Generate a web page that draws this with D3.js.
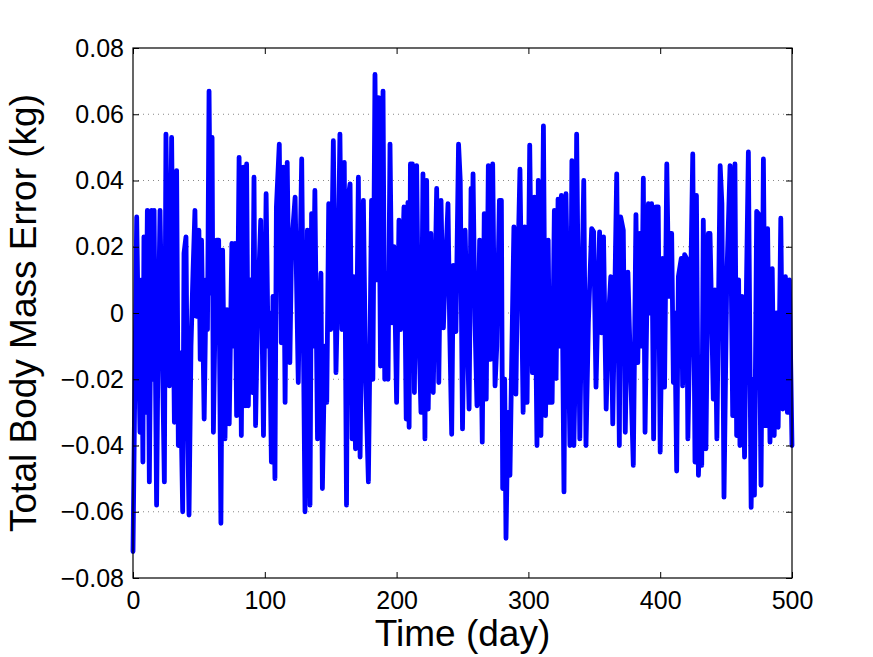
<!DOCTYPE html>
<html><head><meta charset="utf-8">
<script src="https://cdn.jsdelivr.net/npm/d3@7"></script>
<style>body{margin:0;background:#fff}svg{display:block}text{font-family:"Liberation Sans",Arial,sans-serif;fill:#000}</style>
</head><body>
<svg id="c" width="873" height="657"></svg>
<script>
const days = [0,2.8,4,5.3,6.6,7.5,8.3,9.5,10.9,12.4,14.2,15,16,17.9,19,20.5,22,23.8,25,27.6,29.3,31.4,33.1,34.4,35.7,37.7,38.7,40.2,
41.3,42.5,44,45.5,47,48,50,51,52,54,55.5,56.5,57.7,59,60,61,62.5,63.5,65,66.7,68,69.8,71.3,73,75,76,77.4,78.6,80.5,82.2,83.8,
85,86.2,87.5,89,90.5,91.8,93,94.5,96.9,99,101,102.5,103.5,105,106.2,107.7,108.8,111,112.5,114,115.4,117,119,120.3,123,
125.4,126.5,128,130.5,132.3,134.3,135.5,136.5,138,140,141.5,142.6,143.7,145.5,147,148.5,150,152,154,155.5,157,158.5,160.3,162,163.3,164.7,166.3,
167.5,168.8,171,172.3,173.5,174.8,176.5,178.6,179.8,181,182,183.6,185,186.3,187.8,189.7,191,192.5,193.5,195,196.5,198,200,201.8,203,205.6,207.3,
208.6,209.5,210.5,211.5,212,213.5,215.2,216.5,218.5,220,221.5,222.8,224,226,227.8,229,230.4,232,233.7,235.5,236.5,239,240.3,241.8,243,245,247,248.3,250,
252,253.5,255,256.5,257.2,258,259.5,261,263,265,266.5,268,269.6,271.2,272.9,274.7,276,278,279.5,280.5,282,283,284.5,286,287.5,289,
290.5,291.5,293.6,296,297.2,299,301,303,304.5,306.5,307.5,309.5,311.4,313,315,316.3,318,319.7,321,322.5,324,325,327,328.5,330,331.5,333,
334.5,335.5,336.6,339,340.5,342,343.7,345.5,348,349.5,351.3,354,355.5,357,359,361,362.5,364,367,369,370,372,373.5,
375.5,377,379.6,381.6,383,384.5,385.8,387.2,388.5,391,392.5,393.5,395,396.8,398.5,400,401.8,403.3,405,406.5,407.5,408.7,410,411,412.5,413.8,416,
417,418.5,420,421,423,424.7,426.4,427.5,429,430.5,431.5,432.7,434.7,436.5,437.8,440.3,441.5,443,445.5,446.8,448.4,450.5,453,455,456.7,458,
459.5,460.5,462,464,465.5,466.9,469,470.5,471.5,473.2,474.5,476.5,478.3,480,481.5,483.3,485,486.5,488,489.5,491.5,493,495,496.5,498,500];
const massError = [-0.072,0.029,-0.004,-0.036,0.010,-0.045,0.023,-0.030,0.031,-0.051,0.031,-0.020,0.031,-0.058,-0.010,0.031,-0.005,-0.051,0.054,-0.022,0.053,-0.033,0.043,-0.040,-0.012,-0.060,0.018,0.023,
-0.030,-0.061,-0.010,0.012,0.031,-0.001,0.025,-0.014,0.022,-0.032,0.010,-0.005,0.067,0.006,0.053,-0.036,0.005,0.022,0.022,-0.0635,0.019,-0.038,0.001,-0.0335,0.021,-0.010,0.021,-0.031,0.047,-0.037,0.044,
-0.028,0.045,-0.028,0.010,-0.024,0.041,-0.034,0.000,0.028,-0.037,0.036,-0.010,0.000,-0.045,0.005,-0.050,0.032,0.051,-0.009,0.044,-0.027,0.0455,-0.015,0.020,0.035,
-0.021,0.010,0.0465,-0.060,0.025,-0.058,0.030,-0.010,0.037,-0.038,0.000,0.012,-0.053,-0.010,-0.027,0.033,-0.005,0.052,-0.018,0.010,0.054,-0.005,0.0455,-0.058,0.035,0.039,-0.038,
0.011,-0.041,0.041,-0.0435,0.000,0.034,-0.020,-0.051,-0.010,0.034,-0.020,0.072,0.010,0.065,-0.016,0.067,-0.020,0.012,-0.020,0.051,-0.003,0.020,-0.027,0.028,-0.005,0.032,-0.032,
0.0334,-0.0345,0.045,0.000,0.045,-0.024,0.0445,0.000,-0.030,0.042,-0.038,0.040,-0.029,0.024,-0.024,0.005,0.0376,-0.021,0.034,-0.0045,0.0076,0.033,-0.005,-0.0366,0.0144,-0.0056,0.051,0.040,-0.035,
0.025,-0.003,-0.029,0.0376,0.010,0.042,-0.003,-0.028,0.022,-0.039,0.030,-0.026,0.0445,-0.014,0.045,-0.022,-0.010,0.034,0.034,-0.053,-0.020,-0.068,-0.030,-0.049,-0.010,0.026,
-0.0245,0.005,0.0434,-0.030,0.026,-0.027,0.0507,-0.018,0.035,-0.040,0.040,-0.037,0.0565,-0.031,0.022,-0.027,-0.027,0.031,-0.0198,0.0344,-0.010,0.0355,-0.054,0.036,0.000,-0.040,0.046,
-0.040,-0.018,0.054,-0.038,0.005,0.040,-0.040,-0.003,0.0255,0.0245,-0.0224,0.0245,-0.006,0.023,-0.029,0.000,0.011,-0.0335,0.042,-0.040,0.029,0.025,-0.036,
0.0123,-0.010,-0.046,0.0297,-0.015,0.024,-0.010,0.0407,-0.036,0.033,0.000,0.033,-0.038,0.032,0.032,-0.042,0.0165,-0.0224,0.045,0.005,0.024,0.024,-0.021,0.000,-0.0477,0.011,0.0165,
-0.022,0.0176,0.0165,-0.038,0.005,0.048,-0.045,0.0355,-0.049,-0.030,-0.046,0.028,-0.041,0.024,0.024,-0.026,0.007,-0.038,0.0445,0.033,-0.0556,0.010,0.0445,-0.031,0.045,-0.037,
0.010,-0.040,0.005,-0.0435,0.010,0.0486,-0.0587,-0.020,-0.055,0.0307,0.030,-0.052,0.0465,-0.034,0.0255,-0.039,0.0134,-0.037,0.000,-0.0345,0.0286,-0.029,0.011,-0.030,0.010,-0.040];
const xTicks = [0,100,200,300,400,500];
const yTicks = [-0.08,-0.06,-0.04,-0.02,0,0.02,0.04,0.06,0.08];
const yTickLabels = ["\u22120.08","\u22120.06","\u22120.04","\u22120.02","0","0.02","0.04","0.06","0.08"];
const xLabel = "Time (day)";
const yLabel = "Total Body Mass Error (kg)";

const L=133,R=792,T=48,B=578;
const svg=d3.select("#c");
const x=d3.scaleLinear().domain([0,500]).range([L,R]);
const y=d3.scaleLinear().domain([-0.08,0.08]).range([B,T]);

// grid (horizontal dotted)
svg.append("g").selectAll("line").data(yTicks.filter(v=>v>-0.08&&v<0.08)).join("line")
  .attr("x1",L).attr("x2",R).attr("y1",d=>y(d)).attr("y2",d=>y(d))
  .attr("stroke","#888").attr("stroke-width",1).attr("stroke-dasharray","1,4");

// line
const pts=days.map((d,i)=>[d,massError[i]]);
svg.append("path").datum(pts)
  .attr("d",d3.line().x(d=>x(d[0])).y(d=>y(d[1])))
  .attr("fill","none").attr("stroke","#0000ff").attr("stroke-width",4.8)
  .attr("stroke-linejoin","round").attr("stroke-linecap","round");

// axes
const fs=25;
const ax=svg.append("g").attr("transform",`translate(0,${B})`)
  .call(d3.axisBottom(x).tickValues(xTicks).tickSize(-6).tickPadding(13).tickFormat(d3.format("d")));
const axTop=svg.append("g").attr("transform",`translate(0,${T})`)
  .call(d3.axisTop(x).tickValues(xTicks).tickSize(-6).tickFormat(""));
const ay=svg.append("g").attr("transform",`translate(${L},0)`)
  .call(d3.axisLeft(y).tickValues(yTicks).tickSize(-6).tickPadding(9).tickFormat((d,i)=>yTickLabels[i]));
const ayR=svg.append("g").attr("transform",`translate(${R},0)`)
  .call(d3.axisRight(y).tickValues(yTicks).tickSize(-6).tickFormat(""));
[ax,axTop,ay,ayR].forEach(g=>{
  g.select(".domain").remove();
  g.selectAll("line").attr("stroke","#000").attr("stroke-width",1);
  g.selectAll("text").attr("font-size",fs).attr("font-family",'"Liberation Sans",Arial,sans-serif').attr("fill","#000");
});
svg.append("rect").attr("x",L).attr("y",T).attr("width",R-L).attr("height",B-T)
  .attr("fill","none").attr("stroke","#000").attr("stroke-width",1.2);

svg.append("text").attr("x",(L+R)/2).attr("y",646).attr("text-anchor","middle")
  .attr("font-size",37).text(xLabel);
svg.append("text").attr("transform",`translate(36,${(T+B)/2}) rotate(-90)`).attr("text-anchor","middle")
  .attr("font-size",37).text(yLabel);
</script>
</body></html>
